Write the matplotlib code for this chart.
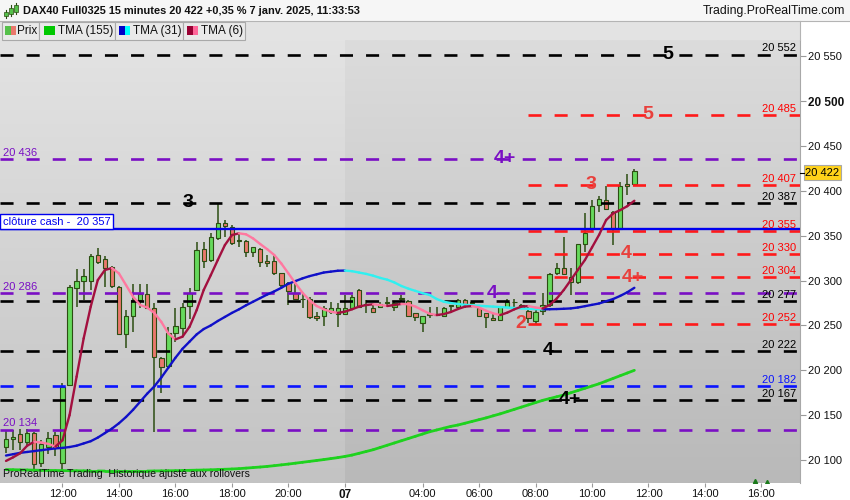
import matplotlib
matplotlib.use('Agg')
import matplotlib.pyplot as plt
import matplotlib.colors as mcolors
import matplotlib.transforms as mtrans
import numpy as np
from matplotlib.patches import Rectangle
from matplotlib.collections import LineCollection

plt.rcParams['font.family'] = ['Liberation Sans', 'DejaVu Sans']
plt.rcParams['lines.scale_dashes'] = False

# ---------------- data ----------------
opens = [20114, 20124, 20129, 20120, 20130, 20097, 20115, 20128, 20097, 20184,
         20292, 20300, 20300, 20328, 20324, 20315, 20293, 20241, 20261, 20278,
         20285, 20270, 20214, 20205, 20242, 20247, 20272, 20290, 20335, 20323,
         20347, 20364, 20360, 20344, 20344, 20332, 20335, 20322, 20322, 20308,
         20297, 20286, 20279, 20280, 20260, 20260, 20265, 20263, 20263, 20270,
         20289, 20273, 20270, 20271, 20275, 20271, 20280, 20277, 20264, 20253,
         20262, 20262, 20260, 20272, 20271, 20278, 20275, 20269, 20264, 20258,
         20256, 20271, 20276, 20273, 20266, 20255, 20266, 20273, 20309, 20314,
         20304, 20299, 20341, 20357, 20384, 20390, 20377, 20358, 20408, 20408]
highs = [20133, 20133, 20135, 20135, 20131, 20122, 20131, 20131, 20186, 20295,
         20313, 20313, 20330, 20336, 20327, 20316, 20294, 20267, 20296, 20296,
         20296, 20275, 20215, 20248, 20269, 20275, 20292, 20343, 20343, 20353,
         20386, 20368, 20362, 20353, 20345, 20338, 20336, 20328, 20328, 20309,
         20299, 20297, 20286, 20282, 20265, 20272, 20276, 20275, 20284, 20284,
         20291, 20278, 20274, 20276, 20282, 20277, 20284, 20278, 20264, 20260,
         20271, 20271, 20271, 20273, 20279, 20279, 20277, 20270, 20264, 20264,
         20271, 20280, 20280, 20274, 20271, 20267, 20286, 20308, 20320, 20349,
         20314, 20341, 20375, 20390, 20394, 20405, 20378, 20410, 20419, 20424]
lows = [20108, 20111, 20111, 20116, 20087, 20092, 20107, 20105, 20087, 20182,
        20271, 20278, 20289, 20318, 20293, 20292, 20239, 20225, 20243, 20269,
        20268, 20131, 20175, 20204, 20232, 20237, 20257, 20289, 20314, 20321,
        20345, 20349, 20340, 20337, 20326, 20326, 20315, 20315, 20306, 20292,
        20273, 20278, 20270, 20257, 20255, 20249, 20263, 20248, 20262, 20268,
        20269, 20264, 20264, 20270, 20271, 20266, 20277, 20259, 20255, 20243,
        20258, 20260, 20259, 20265, 20267, 20269, 20271, 20259, 20247, 20255,
        20255, 20271, 20271, 20268, 20253, 20250, 20262, 20271, 20306, 20306,
        20284, 20296, 20332, 20355, 20376, 20379, 20340, 20357, 20395, 20407]
closes = [20124, 20126, 20120, 20130, 20096, 20118, 20125, 20115, 20181, 20293,
          20300, 20305, 20327, 20321, 20314, 20294, 20241, 20260, 20278, 20285,
          20270, 20215, 20204, 20242, 20249, 20271, 20286, 20334, 20322, 20349,
          20364, 20361, 20342, 20345, 20332, 20337, 20321, 20320, 20309, 20295,
          20288, 20279, 20279, 20259, 20258, 20270, 20270, 20270, 20269, 20282,
          20271, 20273, 20265, 20274, 20275, 20275, 20281, 20260, 20259, 20260,
          20262, 20263, 20269, 20273, 20278, 20272, 20275, 20260, 20259, 20256,
          20271, 20276, 20276, 20269, 20258, 20265, 20273, 20307, 20314, 20307,
          20299, 20341, 20353, 20383, 20391, 20380, 20358, 20405, 20405, 20422]

tma6 = [20099, 20103, 20107.5, 20116, 20120.4, 20119.5, 20118, 20115, 20122, 20150,
        20193, 20235.6, 20271, 20300.6, 20311.8, 20314, 20308, 20295, 20282, 20272.8,
        20270, 20264, 20254, 20241, 20234.5, 20237.5, 20248.6, 20267, 20289.5, 20306,
        20323, 20339.6, 20350.8, 20352.7, 20351.6, 20347, 20340.8, 20335, 20328.5, 20319,
        20308, 20297, 20286.4, 20278, 20271.7, 20268, 20265.4, 20264, 20265.4, 20268,
        20271, 20272.8, 20273.6, 20272.8, 20271.7, 20272.8, 20274, 20273.6, 20271, 20267,
        20263, 20261.6, 20262.7, 20265, 20268.3, 20271, 20271.6, 20270, 20266.4, 20263.5,
        20261.6, 20264.3, 20268, 20271, 20271.6, 20270, 20269, 20272.8, 20280, 20289.5,
        20300.6, 20312, 20323, 20337, 20351, 20367.5, 20375, 20378.6, 20383, 20389]
tma31 = [20105, 20106.5, 20108, 20109, 20110, 20111, 20112, 20113, 20113.5, 20114.5,
         20116, 20118.5, 20121, 20125, 20130, 20135, 20141, 20148, 20156, 20165,
         20174, 20182, 20192, 20203, 20214, 20224, 20232, 20240, 20246, 20250,
         20255, 20259.5, 20264, 20268, 20272.5, 20276.5, 20280.5, 20284.5, 20288, 20292,
         20296.5, 20299.5, 20302.5, 20305, 20307, 20309, 20310, 20311, 20311.2, 20310.5,
         20309, 20307.5, 20305.5, 20303, 20301, 20298, 20294, 20291, 20288.5, 20286,
         20284, 20279.5, 20276.5, 20275, 20274, 20273, 20272.5, 20272, 20271.5, 20271,
         20270.5, 20270, 20269.5, 20269, 20268.5, 20268.2, 20268, 20268.1, 20268.3, 20268.6,
         20269, 20270, 20271.5, 20273, 20274.5, 20277, 20279.5, 20283, 20287, 20292]
tma155 = [20089.4, 20089.2, 20089, 20088.9, 20088.7, 20088.5, 20088.4, 20088.3, 20088.2, 20088.1,
          20088, 20087.9, 20087.8, 20087.8, 20087.7, 20087.7, 20087.7, 20087.7, 20087.7, 20087.7,
          20087.7, 20087.8, 20087.9, 20088, 20088.1, 20088.3, 20088.5, 20088.7, 20088.9, 20089.1,
          20089.4, 20089.7, 20090, 20090.4, 20091, 20091.6, 20092.2, 20092.9, 20093.7, 20094.6,
          20095.5, 20096.5, 20097.5, 20098.5, 20099.5, 20100.5, 20101.6, 20102.7, 20104, 20105.5,
          20107.5, 20109.5, 20111.5, 20114, 20116.5, 20119, 20121.5, 20124, 20126.5, 20129,
          20131.5, 20133.5, 20135.5, 20137.5, 20139, 20141, 20143, 20145, 20147, 20149.3,
          20151.5, 20154, 20156.5, 20159, 20161.5, 20164, 20166.5, 20168.5, 20170.5, 20172.5,
          20175, 20177.5, 20180, 20182.5, 20185, 20188, 20191, 20194, 20197, 20200]

x_tick_pos = [8, 16, 24, 32, 40, 48, 59, 67, 75, 83, 91, 99, 107]
x_tick_labels = ['12:00', '14:00', '16:00', '18:00', '20:00', '07', '04:00',
                 '06:00', '08:00', '10:00', '12:00', '14:00', '16:00']
y_ticks = [20100, 20150, 20200, 20250, 20300, 20350, 20400, 20450, 20500, 20550]

black_levels = [20552, 20387, 20277, 20222, 20167]
purple_levels = [20436, 20286, 20134]
red_levels = [20485, 20407, 20355, 20330, 20304, 20252]
blue_dash_levels = [20182]
cash_close = 20357
last_price = 20422

# marker labels: (text, level, colour-key)
marks = [('5', 20552, 'k'), ('5', 20485, 'r'), ('4+', 20436, 'p'), ('3', 20407, 'r'),
         ('3', 20387, 'k'), ('4', 20330, 'r'), ('4+', 20304, 'r'), ('4', 20286, 'p'),
         ('2', 20252, 'r'), ('4', 20222, 'k'), ('4+', 20167, 'k')]
mark_x = [93.8, 90.9, 70.7, 82.9, 25.8, 87.8, 88.8, 68.8, 72.9, 76.8, 79.9]

# ---------------- layout ----------------
W, H = 850, 500
fig = plt.figure(figsize=(W / 100, H / 100), dpi=100)
fig.patch.set_facecolor('white')

def fx(x):
    return x / W

def fy(y):
    return 1 - y / H

PL, PR, PT, PB = 0, 800, 40, 483
ax = fig.add_axes([fx(PL), fy(PB), (PR - PL) / W, (PB - PT) / H])
XMIN, XMAX = -0.85, 112.46
YMIN, YMAX = 20074.4, 20568.2

COL = {'k': '#000000', 'r': '#ff1a1a', 'p': '#7a0fc4', 'b': '#0a14ff'}
MARKCOL = {'k': '#000000', 'r': '#e8403c', 'p': '#7a0fc4'}

# background gradients
def grad(x0, x1, top, bottom):
    t = np.linspace(0, 1, 256)[:, None, None]
    ct = np.array(mcolors.to_rgb(top))[None, None, :]
    cb = np.array(mcolors.to_rgb(bottom))[None, None, :]
    img = ct * (1 - t) + cb * t
    ax.imshow(img, extent=[x0, x1, YMIN, YMAX], aspect='auto', origin='upper',
              zorder=0, interpolation='bilinear')

split = 47.95
grad(XMIN, split, '#e3e3e3', '#c3c3c3')
grad(split, XMAX, '#dcdcdc', '#b9b9b9')

idx = np.arange(len(closes))

# candles
EDGE = '#2c4d12'
GREEN = '#66d95c'
RED = '#e9786c'
ax.vlines(idx, lows, highs, color=EDGE, lw=1.1, zorder=2)
for i in idx:
    o, c = opens[i], closes[i]
    lo, hi = min(o, c), max(o, c)
    h = max(hi - lo, 0.6)
    fc = GREEN if c >= o else RED
    ax.add_patch(Rectangle((i - 0.31, lo), 0.62, h, facecolor=fc, edgecolor=EDGE,
                           lw=0.8, zorder=2.5))

# horizontal levels
DASH = (9.4, 9.4)
for v in black_levels:
    ax.plot([XMIN, XMAX], [v, v], color=COL['k'], lw=1.9, dashes=DASH, zorder=3)
for v in purple_levels:
    ax.plot([XMIN, XMAX], [v, v], color=COL['p'], lw=1.9, dashes=DASH, zorder=3)
for v in blue_dash_levels:
    ax.plot([XMIN, XMAX], [v, v], color=COL['b'], lw=1.9, dashes=DASH, zorder=3)
red_start = (528 - 6) / 7.06
for v in red_levels:
    ax.plot([red_start, XMAX], [v, v], color=COL['r'], lw=1.9, dashes=DASH, zorder=3)
ax.plot([XMIN, XMAX], [cash_close, cash_close], color='#0000ee', lw=1.7, zorder=3.2)

# moving averages
def colored_line(vals, up, down, lw, z):
    vals = np.asarray(vals, float)
    pts = np.column_stack([idx, vals])
    segs = np.stack([pts[:-1], pts[1:]], axis=1)
    d = np.diff(vals)
    cols = [up if dv >= 0 else down for dv in d]
    lc = LineCollection(segs, colors=cols, linewidths=lw, capstyle='round',
                        joinstyle='round', zorder=z)
    ax.add_collection(lc)

colored_line(tma155, '#1ed21e', '#1ed21e', 2.0, 4)
colored_line(tma31, '#1010c8', '#30f0f0', 1.7, 4.2)
colored_line(tma6, '#a3103f', '#ff78a0', 1.7, 4.4)

# marker labels on levels
for (txt, lvl, ck), mx in zip(marks, mark_x):
    ax.text(mx, lvl, txt, color=MARKCOL[ck], fontsize=14, fontweight='bold',
            ha='center', va='center', zorder=6)

# right side value labels (above the lines)
trans = mtrans.blended_transform_factory(ax.transAxes, ax.transData)
right_labels = [(v, 'k') for v in black_levels] + [(v, 'r') for v in red_levels] + \
               [(v, 'b') for v in blue_dash_levels]
for v, ck in right_labels:
    lab = f"{v // 1000} {v % 1000:03d}"
    ax.annotate(lab, xy=(796 / 800, v), xycoords=trans, xytext=(0, 2.2),
                textcoords='offset points', ha='right', va='baseline',
                fontsize=8, color=COL[ck] if ck != 'r' else '#ff0000', zorder=6)
for v in purple_levels:
    lab = f"{v // 1000} {v % 1000:03d}"
    ax.annotate(lab, xy=(3 / 800, v), xycoords=trans, xytext=(0, 2.2),
                textcoords='offset points', ha='left', va='baseline',
                fontsize=8, color=COL['p'], zorder=6)

# axes styling
ax.set_xlim(XMIN, XMAX)
ax.set_ylim(YMIN, YMAX)
for s in ['top', 'left', 'bottom']:
    ax.spines[s].set_visible(False)
ax.spines['right'].set_color('#a8a8a8')
ax.yaxis.tick_right()
ax.set_yticks(y_ticks)
ax.set_yticklabels([f"{v // 1000} {v % 1000:03d}" for v in y_ticks], fontsize=8)
for v, t in zip(y_ticks, ax.get_yticklabels()):
    if v == 20500:
        t.set_fontweight('bold')
        t.set_fontsize(8.5)
ax.tick_params(axis='y', length=4, color='#999999', pad=2, labelcolor='#111111')
ax.set_xticks(x_tick_pos)
ax.set_xticklabels(x_tick_labels, fontsize=8)
for t in ax.get_xticklabels():
    if t.get_text() == '07':
        t.set_fontweight('bold')
        t.set_fontsize(8.5)
ax.tick_params(axis='x', length=3, color='#999999', pad=1, labelcolor='#111111')

# bottom-left caption
ax.text(3 / 800, 0.008, 'ProRealTime Trading  Historique ajusté aux rollovers',
        transform=ax.transAxes, fontsize=7.6, color='#111111', ha='left', va='bottom', zorder=6)

# small green marks bottom right
ax.plot([106.1, 107.8], [20076.5, 20075.5], ls='none', marker='^', ms=3,
        color='#1a7a1a', zorder=5)

# clôture cash box
fig.add_artist(Rectangle((fx(0), fy(229)), 113 / W, 15 / H, transform=fig.transFigure,
                         facecolor='white', edgecolor='#0000ee', lw=1.0, zorder=10))
fig.text(fx(3), fy(221.5), 'clôture cash -  20 357', fontsize=8, color='#0000ee',
         ha='left', va='center', zorder=11)

# last price box
fig.add_artist(Rectangle((fx(804), fy(180)), 37 / W, 15 / H, transform=fig.transFigure,
                         facecolor='#ffd21a', edgecolor='#a8a8a8', lw=0.8, zorder=10))
fig.add_artist(plt.Line2D([fx(800), fx(804)], [fy(172.5), fy(172.5)],
                          transform=fig.transFigure, color='black', lw=0.8, zorder=10))
fig.text(fx(822.5), fy(172.5), f"{last_price // 1000} {last_price % 1000:03d}",
         fontsize=8, color='black', ha='center', va='center', zorder=11)

# ---------------- header ----------------
fig.add_artist(Rectangle((0, fy(21)), 1, 21 / H, transform=fig.transFigure,
                         facecolor='#f6f6f6', edgecolor='none', zorder=1))
fig.add_artist(plt.Line2D([0, 1], [fy(21), fy(21)], transform=fig.transFigure,
                          color='#b4b4b4', lw=0.8, zorder=2))
fig.add_artist(Rectangle((0, fy(40)), 800 / W, 19 / H, transform=fig.transFigure,
                         facecolor='#e3e3e3', edgecolor='none', zorder=1))
fig.add_artist(plt.Line2D([fx(800), fx(800)], [fy(21), fy(40)], transform=fig.transFigure,
                          color='#b4b4b4', lw=0.8, zorder=2))

# header icon
for (cx, top, bot, wt, wb) in [(6, 12, 16, 10, 18), (11, 8, 14, 5, 16), (16, 5, 12, 3, 14)]:
    fig.add_artist(plt.Line2D([fx(cx), fx(cx)], [fy(wt), fy(wb)], transform=fig.transFigure,
                              color='#2c4d12', lw=0.8, zorder=3))
    fig.add_artist(Rectangle((fx(cx - 1.7), fy(bot)), 3.4 / W, (bot - top) / H,
                             transform=fig.transFigure, facecolor='#55c04a',
                             edgecolor='#2c4d12', lw=0.5, zorder=4))
fig.text(fx(23), fy(11), 'DAX40 Full0325 15 minutes 20 422 +0,35 % 7 janv. 2025, 11:33:53',
         fontsize=7.9, fontweight='bold', color='#111111', ha='left', va='center', zorder=5)
fig.text(fx(845), fy(11), 'Trading.ProRealTime.com', fontsize=8.8, color='#111111',
         ha='right', va='center', zorder=5)

# legend tabs
tabs = [(2, 39), (39, 115), (115, 183), (183, 245)]
for a, b in tabs:
    fig.add_artist(Rectangle((fx(a), fy(40)), (b - a) / W, 18 / H, transform=fig.transFigure,
                             facecolor='#e9e9e9', edgecolor='#a9a9a9', lw=0.8, zorder=3))
fig.text(fx(17), fy(31), 'Prix', fontsize=8.5, color='#111111', ha='left', va='center', zorder=4)
legend_sq = [(5, '#55c04a', '#e9786c'), (44, '#00c800', '#00c800'),
             (119, '#0000c8', '#00ffff'), (187, '#990033', '#ff6699')]
for x0, c1, c2 in legend_sq:
    fig.add_artist(Rectangle((fx(x0), fy(35)), 5.5 / W, 9 / H, transform=fig.transFigure,
                             facecolor=c1, edgecolor='none', zorder=5))
    fig.add_artist(Rectangle((fx(x0 + 5.5), fy(35)), 5.5 / W, 9 / H, transform=fig.transFigure,
                             facecolor=c2, edgecolor='none', zorder=5))
fig.text(fx(58), fy(31), 'TMA (155)', fontsize=8.5, color='#111111', ha='left', va='center', zorder=4)
fig.text(fx(133), fy(31), 'TMA (31)', fontsize=8.5, color='#111111', ha='left', va='center', zorder=4)
fig.text(fx(201), fy(31), 'TMA (6)', fontsize=8.5, color='#111111', ha='left', va='center', zorder=4)

fig.savefig('out.png', dpi=100)
